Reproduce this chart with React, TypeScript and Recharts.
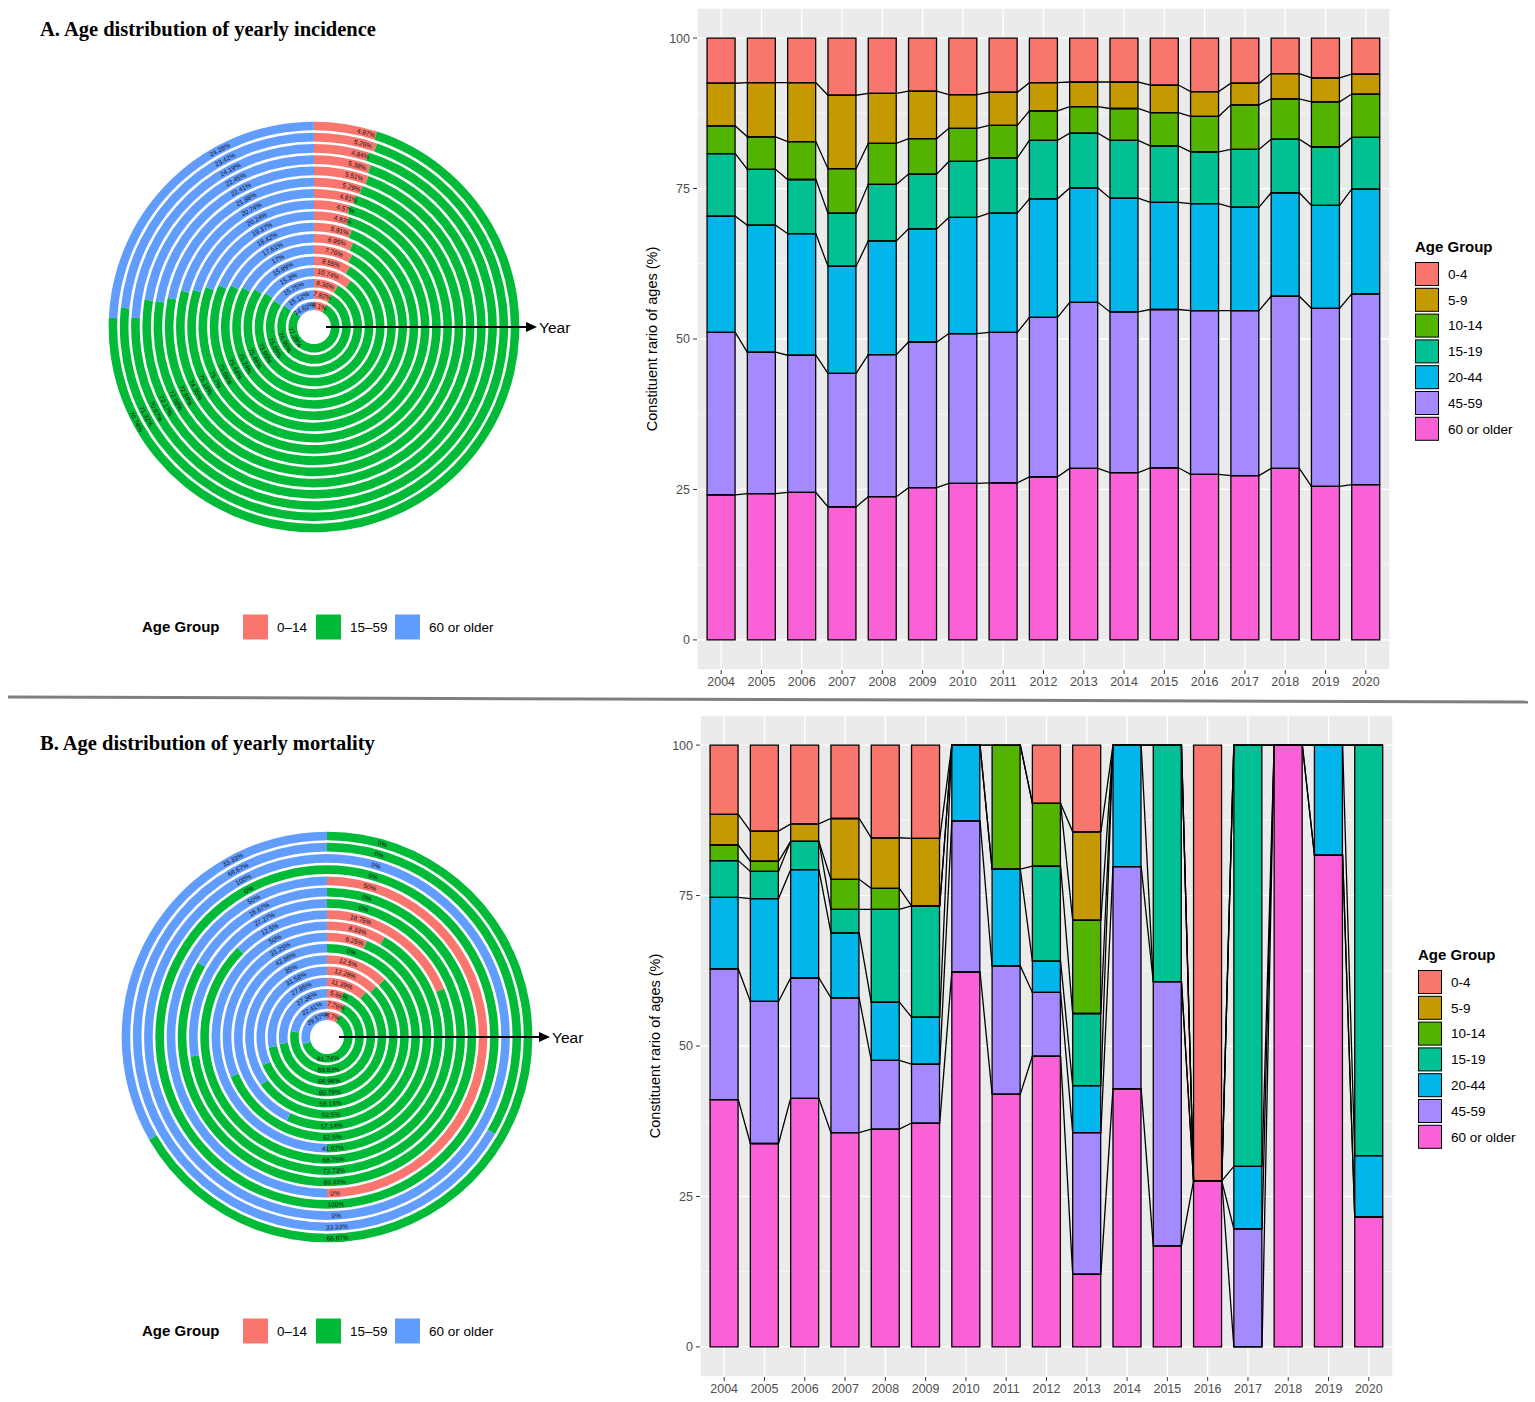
import React from 'react';
import {
  ComposedChart, Bar, Line, XAxis, YAxis, CartesianGrid, Label,
  RadialBarChart, RadialBar, PolarAngleAxis, PolarRadiusAxis, LabelList,
} from 'recharts';

const years = ['2004', '2005', '2006', '2007', '2008', '2009', '2010', '2011', '2012', '2013', '2014', '2015', '2016', '2017', '2018', '2019', '2020'];

// ---- radial rings (innermost ring = 2004) ----
const ringGroups = ['0–14', '15–59', '60 or older'];
const ringColors = ['#F8766D', '#00BA38', '#619CFF'];

const incChild = [8.1, 7.92, 8.36, 10.74, 8.55, 7.76, 6.95, 5.91, 4.93, 4.57, 4.91, 5.29, 5.51, 5.38, 4.84, 5.26, 4.97];
const incAdult = [77.28, 76.96, 75.89, 73.96, 75.46, 75.24, 75.44, 75.66, 75.7, 75.19, 74.35, 72.84, 72.08, 72.17, 70.97, 71.32, 70.74];
const incElder = [14.62, 15.12, 15.75, 15.3, 15.99, 17, 17.61, 18.42, 19.37, 20.24, 20.74, 21.88, 22.41, 22.45, 24.19, 23.42, 24.28];

const morChild = [8.7, 7.76, 5.66, 11.39, 12.28, 12.5, 0, 6.25, 8.33, 18.75, 0, 0, 50, 0, 0, 0, 0];
const morAdult = [61.74, 69.83, 66.98, 60.76, 56.14, 52.5, 57.14, 62.5, 41.67, 68.75, 72.73, 83.33, 0, 100, 0, 33.33, 66.67];
const morElder = [29.57, 22.41, 27.36, 27.85, 31.58, 35, 42.86, 31.25, 50, 12.5, 27.27, 16.67, 50, 0, 100, 66.67, 33.33];

// ---- stacked bars (legend order, top of stack first) ----
const barGroups = ['0-4', '5-9', '10-14', '15-19', '20-44', '45-59', '60 or older'];
const barColors = ['#F8766D', '#C49A00', '#53B400', '#00C094', '#00B6EB', '#A58AFF', '#FB61D7'];

const inc0_4 = [7.5, 7.4, 7.4, 9.5, 9.2, 8.8, 9.4, 9.0, 7.4, 7.3, 7.3, 7.8, 8.9, 7.5, 5.9, 6.6, 6.0];
const inc5_9 = [7.1, 9.0, 9.8, 12.2, 8.3, 7.9, 5.6, 5.5, 4.7, 4.1, 4.4, 4.6, 4.1, 3.6, 4.2, 4.0, 3.3];
const inc10_14 = [4.6, 5.4, 6.3, 7.4, 6.8, 5.9, 5.5, 5.4, 4.9, 4.4, 5.3, 5.5, 5.9, 7.4, 6.7, 7.5, 7.2];
const inc15_19 = [10.4, 9.3, 9.0, 8.8, 9.4, 9.1, 9.3, 9.2, 9.7, 9.1, 9.6, 9.4, 8.6, 9.6, 8.9, 9.7, 8.6];
const inc20_44 = [19.3, 21.1, 20.2, 17.8, 18.9, 18.8, 19.3, 19.8, 19.7, 19.0, 18.9, 17.8, 17.8, 17.2, 17.2, 17.1, 17.4];
const inc45_59 = [27.0, 23.5, 22.8, 22.2, 23.6, 24.2, 24.9, 25.0, 26.5, 27.6, 26.7, 26.3, 27.2, 27.4, 28.6, 29.6, 31.7];
const inc60 = [24.1, 24.3, 24.5, 22.1, 23.8, 25.3, 26.0, 26.1, 27.1, 28.5, 27.8, 28.6, 27.5, 27.3, 28.5, 25.5, 25.8];

const mor0_4 = [11.5, 14.3, 13.1, 12.2, 15.4, 15.5, 0, 0, 9.7, 14.4, 0, 0, 72.4, 0, 0, 0, 0];
const mor5_9 = [5.1, 5.0, 2.9, 10.1, 8.4, 11.2, 0, 0, 0, 14.7, 0, 0, 0, 0, 0, 0, 0];
const mor10_14 = [2.6, 1.7, 0, 5.0, 3.5, 0, 0, 20.6, 10.4, 15.5, 0, 0, 0, 0, 0, 0, 0];
const mor15_19 = [6.1, 4.5, 4.7, 3.9, 15.4, 18.5, 0, 0, 15.8, 12.0, 0, 39.3, 0, 70.0, 0, 0, 68.2];
const mor20_44 = [11.9, 17.1, 18.0, 10.8, 9.7, 7.8, 12.6, 16.1, 5.2, 7.8, 20.2, 0, 0, 10.4, 0, 18.3, 10.2];
const mor45_59 = [21.7, 23.6, 20.0, 22.4, 11.4, 9.8, 25.1, 21.3, 10.6, 23.5, 36.9, 43.9, 0, 19.6, 0, 0, 0];
const mor60 = [41.1, 33.8, 41.3, 35.6, 36.2, 37.2, 62.3, 42.0, 48.3, 12.1, 42.9, 16.8, 27.6, 0, 100, 81.7, 21.6];

const yTicks = [0, 25, 50, 75, 100];
const minorTicks = [12.5, 37.5, 62.5, 87.5];

const FONT = '"Liberation Sans", Arial, Helvetica, sans-serif';
const SERIF = '"Liberation Serif", "Times New Roman", serif';

// ---------- radial chart ----------
const ringLabel = (angle: number) => (props: any) => {
  const vb = props.viewBox || props;
  const { cx, cy, innerRadius, outerRadius } = vb;
  if (cx == null) return null;
  const r = (innerRadius + outerRadius) / 2;
  const t = (angle * Math.PI) / 180;
  const x = cx + r * Math.sin(t);
  const y = cy - r * Math.cos(t);
  const rot = angle > 90 && angle < 270 ? angle - 180 : angle >= 270 ? angle - 360 : angle;
  return (
    <text x={x} y={y} transform={`rotate(${rot} ${x} ${y})`} textAnchor="middle"
      dominantBaseline="central" fontSize={6.5} fill="#111" fontFamily={FONT}>
      {`${props.value}%`}
    </text>
  );
};

function Rings({ cx, cy, child, adult, elder, angles }: any) {
  const rows = years.map((year, i) => ({ year, c: child[i], a: adult[i], e: elder[i] }));
  const size = 440;
  return (
    <div style={{ position: 'absolute', left: cx - size / 2, top: cy - size / 2 }}>
      <RadialBarChart width={size} height={size} data={rows} innerRadius={16} outerRadius={207}
        startAngle={90} endAngle={-270} barSize={8.6}>
        <PolarAngleAxis type="number" domain={[0, 100]} allowDataOverflow tick={false} axisLine={false} />
        <PolarRadiusAxis type="category" dataKey="year" tick={false} axisLine={false} />
        {['c', 'a', 'e'].map((k, j) => (
          <RadialBar key={k} dataKey={k} stackId="r" fill={ringColors[j]} isAnimationActive={false}>
            <LabelList dataKey={k} content={ringLabel(angles[j])} />
          </RadialBar>
        ))}
      </RadialBarChart>
    </div>
  );
}

// ---------- stacked bar chart with flow lines ----------
function flowLines(cols: number[][]) {
  // cols: bottom -> top
  const lines: { x: number; y: number }[][] = [];
  for (let k = 1; k < cols.length; k++) {
    const pts: { x: number; y: number }[] = [];
    years.forEach((_, i) => {
      let c = 0;
      for (let j = 0; j < k; j++) c += cols[j][i];
      pts.push({ x: i - 0.35, y: c }, { x: i + 0.35, y: c });
    });
    lines.push(pts);
  }
  return lines;
}

const yTitle = (props: any) => {
  const vb = props.viewBox || {};
  const x = vb.x + vb.width - 45;
  const y = vb.y + vb.height / 2;
  return (
    <text x={x} y={y} transform={`rotate(-90 ${x} ${y})`} textAnchor="middle"
      dominantBaseline="central" fontSize={14.5} fill="#000">
      Constituent rario of ages (%)
    </text>
  );
};

const minorGrid = ({ yAxis, offset }: any) =>
  minorTicks.map((v) =>
    yAxis && typeof yAxis.scale === 'function'
      ? yAxis.scale(v)
      : offset.top + (offset.height * (105 - v)) / 110);

function Stacked({ left, top, yw, right, groups }: any) {
  const W = 780, H = 700;
  const pw = W - yw - right;
  const pad = pw / 172;
  const bottomUp = [...groups].reverse();
  const keys = bottomUp.map((_: any, j: number) => `s${j}`);
  const rows = years.map((year, i) => {
    const r: any = { year };
    bottomUp.forEach((g: number[], j: number) => { r[`s${j}`] = g[i]; });
    return r;
  });
  const flows = flowLines(bottomUp);
  const colors = [...barColors].reverse();
  return (
    <div style={{ position: 'absolute', left, top, fontFamily: FONT }}>
      <ComposedChart width={W} height={H} data={rows} margin={{ top: 8, right, left: 0, bottom: 0 }}
        barCategoryGap="15%">
        <CartesianGrid fill="#EBEBEB" stroke="#FFFFFF" strokeWidth={1.3} />
        <CartesianGrid vertical={false} stroke="#FFFFFF" strokeWidth={0.6}
          horizontalCoordinatesGenerator={minorGrid} />
        <XAxis dataKey="year" padding={{ left: pad, right: pad }} axisLine={false} interval={0}
          tickLine={{ stroke: '#333333' }} tickSize={4} tickMargin={3} height={30}
          tick={{ fill: '#4D4D4D', fontSize: 12.5 }} />
        <XAxis xAxisId="flow" type="number" dataKey="x" domain={[-0.6, 16.6]} allowDataOverflow hide />
        <YAxis type="number" domain={[-5, 105]} ticks={yTicks} allowDataOverflow axisLine={false} width={yw}
          tickLine={{ stroke: '#333333' }} tickSize={4} tickMargin={3}
          tick={{ fill: '#4D4D4D', fontSize: 12.5 }}>
          <Label content={yTitle} />
        </YAxis>
        {keys.map((k: string, j: number) => (
          <Bar key={k} dataKey={k} stackId="s" fill={colors[j]} stroke="#000000" strokeWidth={1.3}
            isAnimationActive={false} />
        ))}
        {flows.map((pts, k) => (
          <Line key={`f${k}`} data={pts} xAxisId="flow" dataKey="y" type="linear" stroke="#000000"
            strokeWidth={1.3} dot={false} activeDot={false} legendType="none" isAnimationActive={false} />
        ))}
      </ComposedChart>
    </div>
  );
}

// ---------- annotations ----------
function Arrow({ cx, cy }: any) {
  return (
    <g>
      <line x1={cx + 12} y1={cy} x2={cx + 214} y2={cy} stroke="#000" strokeWidth={2} />
      <polygon points={`${cx + 223},${cy} ${cx + 212},${cy - 5} ${cx + 212},${cy + 5}`} fill="#000" />
      <text x={cx + 225} y={cy + 5.5} fontSize={15.5} fontFamily={FONT} fill="#000">Year</text>
    </g>
  );
}

function RingLegend({ y }: any) {
  const sw = [243, 316, 395];
  return (
    <g fontFamily={FONT}>
      <text x={142} y={y + 5.4} fontSize={15} fontWeight="bold" fill="#000">Age Group</text>
      {ringGroups.map((g, i) => (
        <g key={g}>
          <rect x={sw[i]} y={y - 12.5} width={25} height={25} fill={ringColors[i]} />
          <text x={sw[i] + 34} y={y + 4.8} fontSize={13.5} fill="#000">{g}</text>
        </g>
      ))}
    </g>
  );
}

function BarLegend({ x, y }: any) {
  return (
    <g fontFamily={FONT}>
      <text x={x} y={y + 5.4} fontSize={15} fontWeight="bold" fill="#000">Age Group</text>
      {barGroups.map((g, i) => {
        const top = y + 15.5 + i * 25.8;
        return (
          <g key={g}>
            <rect x={x + 0.5} y={top + 0.5} width={23} height={23} fill={barColors[i]} stroke="#000" strokeWidth={1} />
            <text x={x + 33} y={top + 12 + 4.8} fontSize={13.5} fill="#000">{g}</text>
          </g>
        );
      })}
    </g>
  );
}

export default function App() {
  return (
    <div style={{ position: 'relative', width: 1535, height: 1402, background: '#fff', fontFamily: FONT }}>
      <style>{'body{margin:0}'}</style>
      <Rings cx={314} cy={327} child={incChild} adult={incAdult} elder={incElder} angles={[15, 242, 332]} />
      <Rings cx={327} cy={1037} child={morChild} adult={morAdult} elder={morElder} angles={[16, 177, 332]} />
      <Stacked left={626} top={0} yw={71} right={16}
        groups={[inc0_4, inc5_9, inc10_14, inc15_19, inc20_44, inc45_59, inc60]} />
      <Stacked left={628} top={707} yw={72} right={15}
        groups={[mor0_4, mor5_9, mor10_14, mor15_19, mor20_44, mor45_59, mor60]} />
      <svg width={1535} height={1402} style={{ position: 'absolute', left: 0, top: 0, pointerEvents: 'none' }}>
        <text x={40} y={36} fontFamily={SERIF} fontWeight="bold" fontSize={20.5} fill="#000">
          A. Age distribution of yearly incidence
        </text>
        <text x={40} y={750} fontFamily={SERIF} fontWeight="bold" fontSize={20.5} fill="#000">
          B. Age distribution of yearly mortality
        </text>
        <line x1={8} y1={697} x2={1528} y2={702} stroke="#7F7F7F" strokeWidth={3} />
        <Arrow cx={314} cy={327} />
        <Arrow cx={327} cy={1037} />
        <RingLegend y={627} />
        <RingLegend y={1331} />
        <BarLegend x={1415} y={246.5} />
        <BarLegend x={1418} y={954.5} />
      </svg>
    </div>
  );
}
